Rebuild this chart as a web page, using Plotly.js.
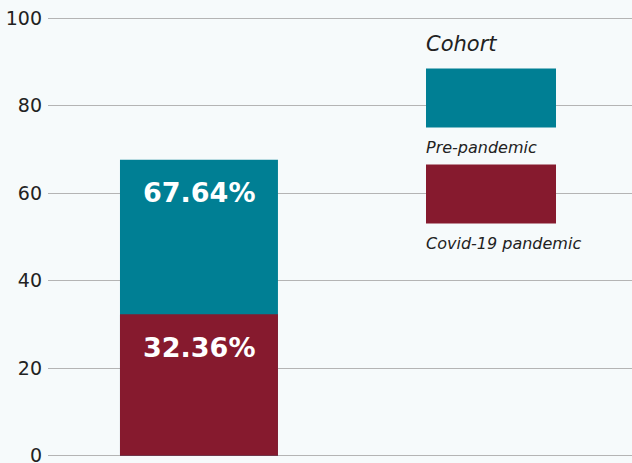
<!DOCTYPE html>
<html>
<head>
<meta charset="utf-8">
<script src="https://cdn.plot.ly/plotly-3.0.1.min.js"></script>
<style>html,body{margin:0;padding:0;background:#f6fafb;}#chart{width:632px;height:463px;}</style>
</head>
<body>
<div id="chart"></div>
<script>
// ---- data ----
const categories = ["All"];
const cohortNames = ["Pre-pandemic", "Covid-19 pandemic"];
const prePandemic = [67.64];
const covidPandemic = [32.36];
const legendTitle = "Cohort";
const yTickVals = [0, 20, 40, 60, 80, 100];

// ---- styles ----
const colors = ["#007f94", "#861a2e"];
const W = 632, H = 463;
const M = {l: 48, r: 0, t: 15.5, b: 5.3};
const pw = W - M.l - M.r, ph = H - M.t - M.b;
const px = x => (x - M.l) / pw;
const py = y => (H - M.b - y) / ph;

const series = [prePandemic, covidPandemic];
const traces = series.map((vals, i) => ({
  type: "bar",
  x: categories,
  y: vals,
  name: cohortNames[i],
  marker: {color: colors[i], line: {width: 0}},
  width: 0.541,
  hoverinfo: "skip",
  showlegend: false
}));

const annotations = [];
series.forEach((vals, i) => {
  vals.forEach((v, j) => {
    annotations.push({
      x: categories[j], y: v, xref: "x", yref: "y",
      text: "<b>" + v.toFixed(2) + "%</b>",
      showarrow: false, yanchor: "middle", yshift: -33,
      font: {family: "DejaVu Sans", size: 27, color: "#ffffff"}
    });
  });
});

// custom legend
annotations.push({
  xref: "paper", yref: "paper", x: px(424), y: py(44),
  xanchor: "left", yanchor: "middle", showarrow: false,
  text: "<i>" + legendTitle + "</i>",
  font: {family: "DejaVu Sans", size: 21, color: "#222222"}
});
const shapes = [];
const swTop = [68, 164];
cohortNames.forEach((nm, i) => {
  shapes.push({
    type: "rect", xref: "paper", yref: "paper",
    x0: px(426), x1: px(556), y0: py(swTop[i] + 59), y1: py(swTop[i]),
    fillcolor: colors[i], line: {width: 0}, layer: "above"
  });
  annotations.push({
    xref: "paper", yref: "paper", x: px(424), y: py(swTop[i] + 79),
    xanchor: "left", yanchor: "middle", showarrow: false,
    text: "<i>" + nm + "</i>",
    font: {family: "DejaVu Sans", size: 16, color: "#222222"}
  });
});

const layout = {
  width: W, height: H,
  margin: M,
  paper_bgcolor: "#f6fafb",
  plot_bgcolor: "rgba(0,0,0,0)",
  barmode: "overlay",
  showlegend: false,
  xaxis: {
    range: [-0.517, 1.483], showgrid: false, showticklabels: false,
    zeroline: false, showline: false, fixedrange: true
  },
  yaxis: {
    range: [-0.5, 100.5], tickvals: yTickVals, ticktext: yTickVals.map(String),
    showgrid: true, gridcolor: "#b4b4b4", gridwidth: 1,
    zeroline: false, showline: false, ticks: "",
    ticklabelstandoff: 5, ticklabeloverflow: "allow",
    tickfont: {family: "DejaVu Sans", size: 19, color: "#222222"}
  },
  shapes: shapes,
  annotations: annotations
};

Plotly.newPlot("chart", traces, layout, {displayModeBar: false, staticPlot: true});
</script>
</body>
</html>
